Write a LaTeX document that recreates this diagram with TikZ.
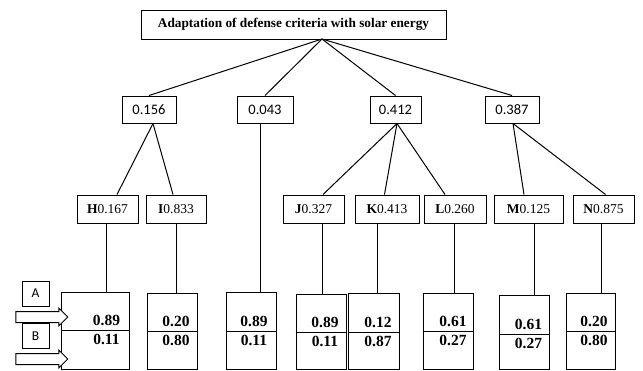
\documentclass[tikz,border=0pt]{standalone}
\usepackage{fontspec}
\setmainfont{Liberation Serif}
\newfontfamily\calfont{Carlito}
\usetikzlibrary{shapes.arrows}

\tikzset{
  box/.style={draw, line width=1pt, inner sep=0pt},
  goalbox/.style={box, font=\fontsize{13.3}{15}\selectfont\bfseries, minimum width=305pt, minimum height=29pt},
  wbox/.style={box, font=\calfont\fontsize{14.5}{16}\selectfont, minimum width=54pt, minimum height=27pt},
  cbox/.style={box, font=\fontsize{13.5}{15}\selectfont, minimum width=61pt, minimum height=28pt},
  valbox/.style={box, minimum width=50pt},
  val/.style={inner sep=0pt, font=\fontsize{15.5}{17}\selectfont\bfseries},
  tagbox/.style={box, font=\calfont\fontsize{13.5}{15}\selectfont, minimum width=27pt, minimum height=25pt},
  inarrow/.style={draw, fill=white, single arrow, line width=1pt, minimum height=52pt, inner sep=5pt,
    single arrow head extend=3.5pt, single arrow head indent=0pt}
}

\begin{document}
\begin{tikzpicture}[x=1pt, y=-1pt, line width=1pt]
        \useasboundingbox (0,0) rectangle (643,370);
        % goal and criteria weights
        \node[goalbox] (goal) at (293.5,24.5) {Adaptation of defense criteria with solar energy};
        \coordinate (apex) at (322,39);
        \node[wbox] (w1) at (149,109.5) {0.156};
        \node[wbox, minimum width=56pt] (w2) at (265,109.5) {0.043};
        \node[wbox, minimum width=51pt] (w3) at (395.5,109.5) {0.412};
        \node[wbox] (w4) at (512,109.5) {0.387};
        \draw (apex) -- (w1.north);
        \draw (apex) -- (w2.north);
        \draw (apex) -- (w3.north);
        \draw (apex) -- (w4.north);
        % sub-criteria
        \node[cbox] (h) at (107.5,209) {\textbf{H}0.167};
        \node[cbox, minimum width=60pt] (i) at (176,209) {\textbf{I}0.833};
        \node[cbox] (j) at (313.5,209) {\textbf{J}0.327};
        \node[cbox, minimum width=64pt] (k) at (387,209) {\textbf{K}0.413};
        \node[cbox, minimum width=62pt] (l) at (455,209) {\textbf{L}0.260};
        \node[cbox, minimum width=69pt] (m) at (528.5,209) {\textbf{M}0.125};
        \node[cbox] (n) at (603.5,209) {\textbf{N}0.875};
        \draw ([xshift=4pt]w1.south) -- ([xshift=9.5pt]h.north);
        \draw ([xshift=4pt]w1.south) -- ([xshift=-3pt]i.north);
        \draw ([xshift=1.5pt]w3.south) -- ([xshift=9.5pt]j.north);
        \draw ([xshift=1.5pt]w3.south) -- ([xshift=-2.5pt]k.north);
        \draw ([xshift=1.5pt]w3.south) -- ([xshift=-10pt]l.north);
        \draw ([xshift=1pt]w4.south) -- ([xshift=-4.5pt]m.north);
        \draw ([xshift=1pt]w4.south) -- ([xshift=2pt]n.north);
        % alternatives
        \node[valbox, minimum width=68pt, minimum height=77pt] (b1) at (95,330.5) {};
        \node[valbox, minimum height=76pt] (b2) at (172,331) {};
        \node[valbox, minimum height=77pt] (b3) at (251,330.5) {};
        \node[valbox, minimum height=75pt] (b4) at (321,331.5) {};
        \node[valbox, minimum width=51pt, minimum height=76pt] (b5) at (373.5,331) {};
        \node[valbox, minimum height=76pt] (b6) at (448,331) {};
        \node[valbox, minimum height=74pt] (b7) at (524,332) {};
        \node[valbox, minimum width=49pt, minimum height=76pt] (b8) at (590.5,331) {};
        \draw (b1.west |- 0,330) -- (b1.east |- 0,330);
        \draw (b2.west |- 0,331) -- (b2.east |- 0,331);
        \draw (b3.west |- 0,331) -- (b3.east |- 0,331);
        \draw (b4.west |- 0,332) -- (b4.east |- 0,332);
        \draw (b5.west |- 0,332) -- (b5.east |- 0,332);
        \draw (b6.west |- 0,331) -- (b6.east |- 0,331);
        \draw (b7.west |- 0,334) -- (b7.east |- 0,334);
        \draw (b8.west |- 0,331) -- (b8.east |- 0,331);
        \node[val] (b1a) at (106.5,320) {0.89};
        \node[val] (b1b) at (106.5,339) {0.11};
        \node[val] (b2a) at (176,321) {0.20};
        \node[val] (b2b) at (176,340) {0.80};
        \node[val] (b3a) at (254,321) {0.89};
        \node[val] (b3b) at (254,340) {0.11};
        \node[val] (b4a) at (325,322) {0.89};
        \node[val] (b4b) at (325,341) {0.11};
        \node[val] (b5a) at (378,322) {0.12};
        \node[val] (b5b) at (378,341) {0.87};
        \node[val] (b6a) at (453,321) {0.61};
        \node[val] (b6b) at (453,340) {0.27};
        \node[val] (b7a) at (528.5,324) {0.61};
        \node[val] (b7b) at (528.5,343) {0.27};
        \node[val] (b8a) at (594,321) {0.20};
        \node[val] (b8b) at (594,340) {0.80};
        \draw ([xshift=-1.5pt]h.south) -- ([xshift=-1.5pt]b1.north -| h.south);
        \draw (i.south) -- (b2.north -| i.south);
        \draw ([xshift=-5pt]w2.south) -- ([xshift=-5pt]b3.north -| w2.south);
        \draw ([xshift=8.5pt]j.south) -- ([xshift=8.5pt]b4.north -| j.south);
        \draw ([xshift=-10pt]k.south) -- ([xshift=-10pt]b5.north -| k.south);
        \draw ([xshift=-1pt]l.south) -- ([xshift=-1pt]b6.north -| l.south);
        \draw ([xshift=5.5pt]m.south) -- ([xshift=5.5pt]b7.north -| m.south);
        \draw ([xshift=-2.5pt]n.south) -- ([xshift=-2.5pt]b8.north -| n.south);
        % scenario labels
        \node[tagbox] (ta) at (35.5,293.5) {A};
        \node[tagbox] (tb) at (35.5,336) {B};
        \node[inarrow] (arra) at (39,317) {};
        \node[inarrow] (arrb) at (39,359) {};
    \end{tikzpicture}
\end{document}
